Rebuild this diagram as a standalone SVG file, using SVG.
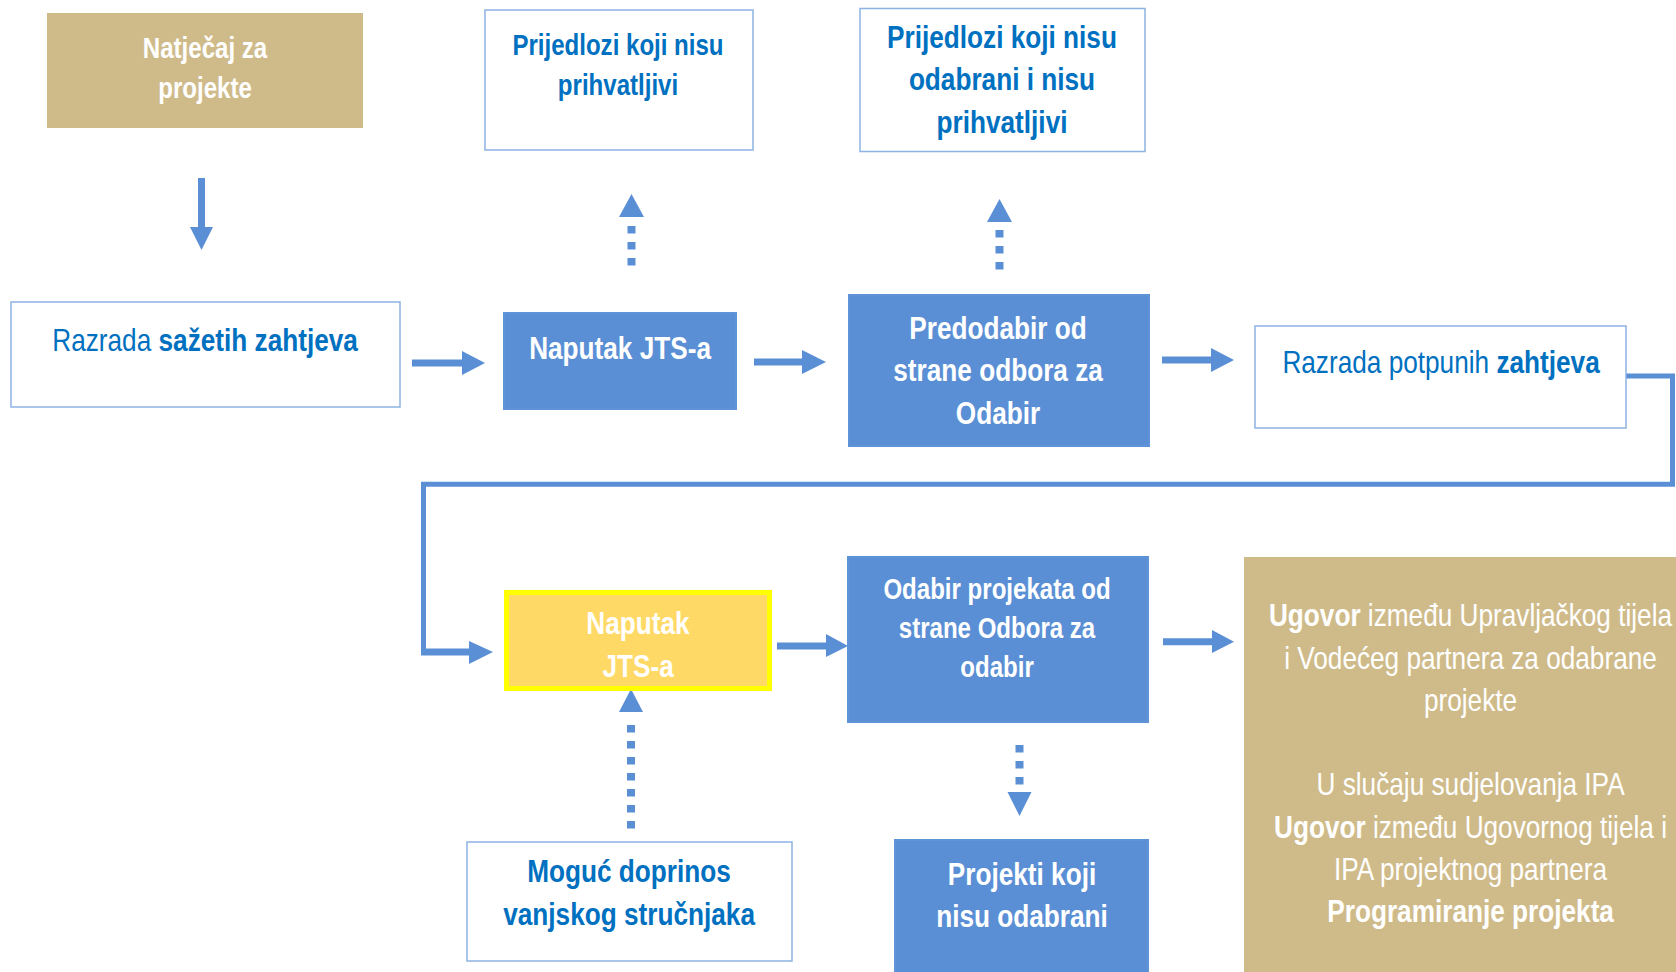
<svg xmlns="http://www.w3.org/2000/svg" width="1676" height="972" viewBox="0 0 1676 972">
<style>
text{font-family:"Liberation Sans",Arial,sans-serif;text-anchor:middle;transform-box:fill-box;transform-origin:center;transform:scaleX(0.845);}
.b{font-weight:bold;}
.w{fill:#FFFFFF;}
.bl{fill:#0070C0;}
.f29{font-size:29px;transform:scaleX(0.83);}
.f31{font-size:31px;}
.wbox{fill:#FFFFFF;stroke:#8DB3E2;stroke-width:1.5;}
.bbox{fill:#5A8FD5;stroke:#5E93D8;stroke-width:2;}
.tan{fill:#CFBB8A;}
.shaft{stroke:#5A8FD5;stroke-width:7;fill:none;}
.line{stroke:#5A8FD5;stroke-width:5;fill:none;}
.dot{stroke:#5A8FD5;stroke-width:8;stroke-dasharray:7.5 8.5;fill:none;}
.head{fill:#5A8FD5;}
</style>
<rect width="1676" height="972" fill="#FFFFFF"/>
<g id="connectors">
<line class="shaft" x1="201.5" y1="178" x2="201.5" y2="228"/>
<polygon class="head" points="190,227 213,227 201.5,250"/>
<line class="shaft" x1="412" y1="363" x2="463" y2="363"/>
<polygon class="head" points="462,351 462,375 485,363"/>
<line class="shaft" x1="754" y1="362" x2="803" y2="362"/>
<polygon class="head" points="802,350 802,374 826,362"/>
<line class="shaft" x1="1162" y1="360" x2="1212" y2="360"/>
<polygon class="head" points="1211,348 1211,372 1234,360"/>
<polyline class="line" points="1626,376 1672.5,376 1672.5,484.3 423.5,484.3 423.5,650"/>
<line class="shaft" x1="421" y1="652" x2="470" y2="652"/>
<polygon class="head" points="469,641 469,664 493,652"/>
<line class="shaft" x1="777" y1="646" x2="827" y2="646"/>
<polygon class="head" points="826,634 826,657 848,646"/>
<line class="shaft" x1="1163" y1="641.7" x2="1213" y2="641.7"/>
<polygon class="head" points="1212,630 1212,653 1234,641.7"/>
<line class="dot" x1="631.5" y1="226" x2="631.5" y2="266"/>
<polygon class="head" points="619,217 644,217 631.5,194"/>
<line class="dot" x1="999.5" y1="230" x2="999.5" y2="271"/>
<polygon class="head" points="987,222 1012,222 999.5,199"/>
<line class="dot" x1="631" y1="725" x2="631" y2="829"/>
<polygon class="head" points="619,712 643,712 631,689"/>
<line class="dot" x1="1019.5" y1="745" x2="1019.5" y2="785"/>
<polygon class="head" points="1007.5,792 1031.5,792 1019.5,816"/>
</g>
<g id="natjecaj">
<rect class="tan" x="47" y="13" width="316" height="115"/>
<text class="b w f29" x="205" y="58">Natječaj za</text>
<text class="b w f29" x="205" y="98">projekte</text>
</g>
<g id="prijedlozi-neprihvatljivi">
<rect class="wbox" x="485" y="10" width="268" height="140"/>
<text class="b bl f29" x="618" y="55">Prijedlozi koji nisu</text>
<text class="b bl f29" x="618" y="95">prihvatljivi</text>
</g>
<g id="prijedlozi-neodabrani">
<rect class="wbox" x="860" y="8.5" width="285" height="143"/>
<text class="b bl f31" x="1002" y="48">Prijedlozi koji nisu</text>
<text class="b bl f31" x="1002" y="90">odabrani i nisu</text>
<text class="b bl f31" x="1002" y="133">prihvatljivi</text>
</g>
<g id="razrada-sazetih">
<rect class="wbox" x="11" y="302" width="389" height="105"/>
<text class="bl f31" x="205" y="351">Razrada <tspan class="b">sažetih zahtjeva</tspan></text>
</g>
<g id="naputak-1">
<rect class="bbox" x="504" y="313" width="232" height="96"/>
<text class="b w f31" x="620" y="359">Naputak JTS-a</text>
</g>
<g id="predodabir">
<rect class="bbox" x="849" y="295" width="300" height="151"/>
<text class="b w f31" x="998" y="339">Predodabir od</text>
<text class="b w f31" x="998" y="381">strane odbora za</text>
<text class="b w f31" x="998" y="424">Odabir</text>
</g>
<g id="razrada-potpunih">
<rect class="wbox" x="1255" y="326" width="371" height="102"/>
<text class="bl f31" x="1441" y="373">Razrada potpunih <tspan class="b">zahtjeva</tspan></text>
</g>
<g id="naputak-2">
<rect x="506.5" y="592.5" width="263" height="96" fill="#FFD966" stroke="#FFFF00" stroke-width="5"/>
<text class="b w f31" x="638" y="634">Naputak</text>
<text class="b w f31" x="638" y="677">JTS-a</text>
</g>
<g id="odabir">
<rect class="bbox" x="848" y="557" width="300" height="165"/>
<text class="b w f29" x="997" y="599">Odabir projekata od</text>
<text class="b w f29" x="997" y="638">strane Odbora za</text>
<text class="b w f29" x="997" y="677">odabir</text>
</g>
<g id="moguc-doprinos">
<rect class="wbox" x="467" y="842" width="325" height="119"/>
<text class="b bl f31" x="629" y="882">Moguć doprinos</text>
<text class="b bl f31" x="629" y="925">vanjskog stručnjaka</text>
</g>
<g id="projekti-neodabrani">
<rect class="bbox" x="895" y="840" width="253" height="140"/>
<text class="b w f31" x="1022" y="885">Projekti koji</text>
<text class="b w f31" x="1022" y="927">nisu odabrani</text>
</g>
<g id="ugovor">
<rect class="tan" x="1244" y="557" width="440" height="420"/>
<text class="w f31" x="1470.5" y="626"><tspan class="b">Ugovor</tspan> između Upravljačkog tijela</text>
<text class="w f31" x="1470.5" y="669">i Vodećeg partnera za odabrane</text>
<text class="w f31" x="1470.5" y="711">projekte</text>
<text class="w f31" x="1470.5" y="795">U slučaju sudjelovanja IPA</text>
<text class="w f31" x="1470.5" y="838"><tspan class="b">Ugovor</tspan> između Ugovornog tijela i</text>
<text class="w f31" x="1470.5" y="880">IPA projektnog partnera</text>
<text class="b w f31" x="1470.5" y="922">Programiranje projekta</text>
</g>
</svg>
